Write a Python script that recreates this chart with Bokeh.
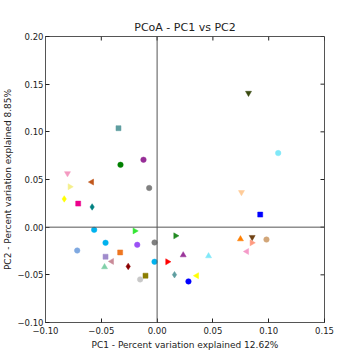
import math
from bokeh.plotting import figure
from bokeh.models import Range1d, FixedTicker, Span, ColumnDataSource
from bokeh.embed import file_html
from bokeh.resources import INLINE

# ---- data ----
pc1 = [-0.0328, -0.0122, -0.0803, -0.0585, -0.0782, -0.0071, -0.0832, -0.0707, -0.0582, -0.0564,
       -0.0200, -0.0023, 0.0165, -0.0462, -0.0178, -0.0716, -0.0331, 0.0234, -0.0462, -0.0406,
       -0.0023, 0.0093, -0.0471, -0.0259, 0.0156, -0.0104, -0.0152, 0.0281, 0.1085, 0.0756,
       0.0924, 0.0747, 0.0852, 0.0980, 0.0849, 0.0804, 0.0461, 0.0356, -0.0346, 0.0819]
pc2 = [0.0654, 0.0707, 0.0564, 0.0473, 0.0424, 0.0411, 0.0296, 0.0247, 0.0212, -0.0028,
       -0.0039, -0.0161, -0.0091, -0.0164, -0.0185, -0.0245, -0.0265, -0.0293, -0.0310, -0.0359,
       -0.0363, -0.0363, -0.0418, -0.0412, -0.0499, -0.0509, -0.0548, -0.0569, 0.0777, 0.0366,
       0.0132, -0.0125, -0.0105, -0.0130, -0.0164, -0.0255, -0.0303, -0.0509, 0.1038, 0.1407]
markers = ["circle", "circle", "tri_down", "tri_left", "tri_right", "circle", "diamond", "square", "diamond", "circle",
           "tri_right", "circle", "tri_right", "circle", "circle", "circle", "square", "tri_up", "square", "tri_left",
           "circle", "tri_right", "tri_up", "diamond", "diamond", "square", "circle", "circle", "circle", "tri_down",
           "square", "tri_up", "tri_down", "circle", "tri_right", "tri_left", "tri_up", "tri_left", "square", "tri_down"]
colors = ["#008000", "#962d96", "#f49ac1", "#c0561b", "#f5ef8a", "#808080", "#ffff00", "#ec008c", "#008080", "#00b2ee",
          "#33e633", "#808080", "#228b22", "#00b2ee", "#9b50f5", "#7fa8e0", "#ee7621", "#993399", "#a08ccc", "#c98a98",
          "#00b2ee", "#ff0000", "#80d0a8", "#8b0000", "#5f9ea0", "#8b7d00", "#c8c8c8", "#0000ff", "#80e8f8", "#ffcc99",
          "#0000ff", "#ff7f00", "#704214", "#d2a679", "#ff9a80", "#f59ac8", "#80e8f8", "#ffff00", "#5f9ea0", "#3a4a10"]
x_ticks = [-0.10, -0.05, 0.00, 0.05, 0.10, 0.15]
x_tick_labels = ["\u22120.10", "\u22120.05", "0.00", "0.05", "0.10", "0.15"]
y_ticks = [-0.10, -0.05, 0.00, 0.05, 0.10, 0.15, 0.20]
y_tick_labels = ["\u22120.10", "\u22120.05", "0.00", "0.05", "0.10", "0.15", "0.20"]
x_min, x_max = -0.10, 0.15
y_min, y_max = -0.10, 0.20
title = "PCoA - PC1 vs PC2"
x_label = "PC1 - Percent variation explained 12.62%"
y_label = "PC2 - Percent variation explained 8.85%"

FONT = "DejaVu Sans"
TXT = "#222222"
FRAME = "#555555"
marker_map = {
    "circle": ("circle", 0.0, 5.5),
    "square": ("square", 0.0, 5),
    "diamond": ("diamond", 0.0, 6.5),
    "tri_up": ("triangle", 0.0, 6),
    "tri_down": ("inverted_triangle", 0.0, 6),
    "tri_left": ("triangle", math.pi / 2, 6),
    "tri_right": ("triangle", -math.pi / 2, 6),
}

p = figure(width=352, height=352, output_backend="svg", toolbar_location=None,
           x_range=Range1d(x_min, x_max), y_range=Range1d(y_min, y_max),
           min_border_left=45, min_border_right=28, min_border_top=36, min_border_bottom=29)
p.title.text = title
p.title.align = "center"
p.title.text_font = FONT
p.title.text_font_size = "11px"
p.title.text_font_style = "normal"
p.title.text_color = TXT
p.title.standoff = 5
p.grid.visible = False
p.outline_line_color = FRAME
p.background_fill_color = "white"
p.border_fill_color = "white"

def style_axis(ax, ticks, labels):
    ax.ticker = FixedTicker(ticks=ticks)
    ax.major_label_overrides = {t: l for t, l in zip(ticks, labels)}
    ax.major_tick_in = 4
    ax.major_tick_out = 0
    ax.minor_tick_line_color = None
    ax.major_tick_line_color = TXT
    ax.axis_line_color = FRAME
    ax.major_label_text_font = FONT
    ax.major_label_text_color = TXT
    ax.major_label_text_font_size = "8.5px"
    ax.axis_label_text_font = FONT
    ax.axis_label_text_font_size = "9px"
    ax.axis_label_text_font_style = "normal"
    ax.axis_label_text_color = TXT

style_axis(p.xaxis[0], x_ticks, x_tick_labels)
style_axis(p.yaxis[0], y_ticks, y_tick_labels)
p.xaxis[0].axis_label = x_label
p.yaxis[0].axis_label = y_label
p.xaxis[0].major_label_standoff = 4
p.xaxis[0].axis_label_standoff = 3
p.yaxis[0].major_label_standoff = 2
p.yaxis[0].axis_label_standoff = 1

# inward ticks on the top and right edges of the frame
p.ray(x=x_ticks, y=[y_max] * len(x_ticks), length=4, length_units="screen",
      angle=-math.pi / 2, line_color=TXT, line_width=1)
p.ray(x=[x_max] * len(y_ticks), y=y_ticks, length=4, length_units="screen",
      angle=math.pi, line_color=TXT, line_width=1)

p.add_layout(Span(location=0, dimension="height", line_color=FRAME, line_width=1))
p.add_layout(Span(location=0, dimension="width", line_color=FRAME, line_width=1))

src = ColumnDataSource(dict(
    x=pc1, y=pc2, color=colors,
    marker=[marker_map[m][0] for m in markers],
    angle=[marker_map[m][1] for m in markers],
    size=[marker_map[m][2] for m in markers],
))
p.scatter(x="x", y="y", marker="marker", angle="angle", size="size",
          fill_color="color", line_color="color", line_width=0.5, source=src)

open("out.html", "w").write(file_html(p, INLINE))
